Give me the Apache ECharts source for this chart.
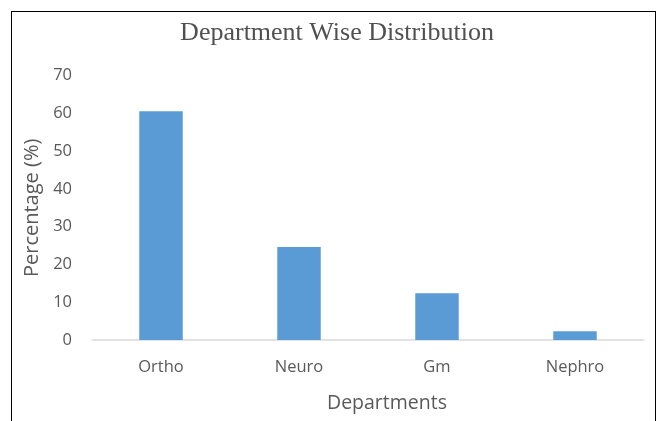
<!DOCTYPE html>
<html>
<head>
<meta charset="utf-8">
<script src="https://cdn.jsdelivr.net/npm/echarts@6/dist/echarts.min.js"></script>
<style>
  html, body { margin: 0; padding: 0; background: #fff; }
  #frame { position: absolute; left: 11px; top: 11px; width: 645px; height: 420px;
           border: 1px solid #000; border-bottom: none; box-sizing: border-box; }
  #chart { position: absolute; left: 0; top: 0; width: 660px; height: 421px; }
</style>
</head>
<body>
<div id="frame"></div>
<div id="chart"></div>
<script>
const departments = ['Ortho', 'Neuro', 'Gm', 'Nephro'];
const percentages = [60.6, 24.6, 12.4, 2.3];
const yTicks = [0, 10, 20, 30, 40, 50, 60, 70];

const chart = echarts.init(document.getElementById('chart'), null, { renderer: 'canvas' });
const sans = '"Open Sans", "Liberation Sans", sans-serif';
chart.setOption({
  backgroundColor: 'transparent',
  animation: false,
  title: {
    text: 'Department Wise Distribution',
    left: 332, textAlign: 'center', top: 15,
    textStyle: { fontFamily: '"Liberation Serif", serif', fontSize: 26, fontWeight: 'normal', color: '#505050' }
  },
  grid: { left: 92, right: 16, top: 75.7, bottom: 81 },
  xAxis: {
    type: 'category',
    data: departments,
    name: 'Departments',
    nameLocation: 'middle',
    nameGap: 53,
    nameTextStyle: { fontFamily: sans, fontSize: 19.5, color: '#595959', padding: [0, 0, 0, 38] },
    axisLine: { lineStyle: { color: '#d9d9d9', width: 1.5 } },
    axisTick: { show: false },
    axisLabel: { fontFamily: sans, fontSize: 16.5, color: '#595959', margin: 19 }
  },
  yAxis: {
    type: 'value',
    min: yTicks[0],
    max: yTicks[yTicks.length - 1],
    interval: 10,
    name: 'Percentage (%)',
    nameLocation: 'middle',
    nameGap: 48,
    nameTextStyle: { fontFamily: sans, fontSize: 20, color: '#595959' },
    axisLine: { show: false },
    axisTick: { show: false },
    splitLine: { show: false },
    axisLabel: { fontFamily: sans, fontSize: 16.5, color: '#595959', margin: 20 }
  },
  series: [{
    type: 'bar',
    data: percentages,
    barWidth: '31.5%',
    itemStyle: { color: '#5b9bd5' }
  }]
});
</script>
</body>
</html>
